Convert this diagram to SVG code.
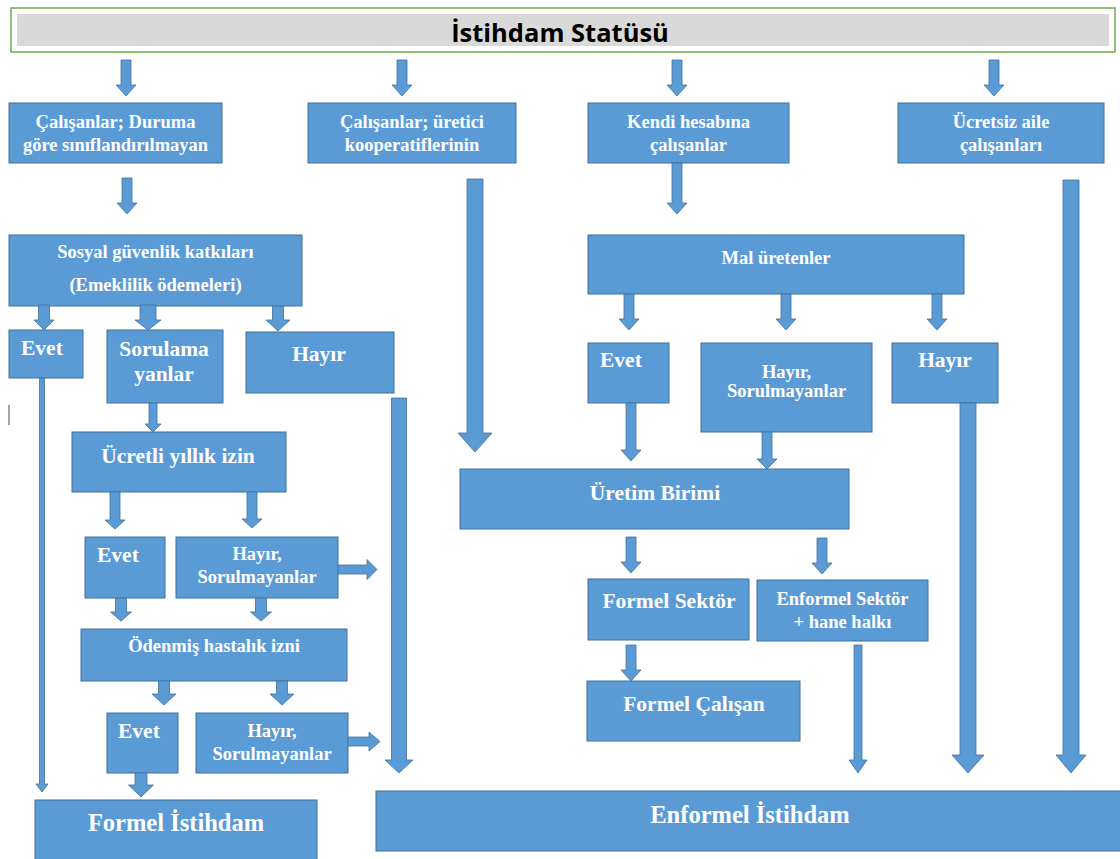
<svg xmlns="http://www.w3.org/2000/svg" width="1120" height="859" viewBox="0 0 1120 859">
<style>
.b{fill:#5B9BD5;stroke:#41719C;stroke-width:1}
.a{fill:#5B9BD5;stroke:#41719C;stroke-width:0.8}
text{font-family:"Liberation Serif","Times New Roman",serif;font-weight:bold;fill:#FFFFFF}
.s{font-size:18.5px}
.m{font-size:21.5px}
.l{font-size:24.5px}
.c{text-anchor:middle}
</style>
<rect width="1120" height="859" fill="#FFFFFF"/>
<g id="title">
<rect x="11" y="8" width="1104" height="44" fill="#FFFFFF" stroke="#70AD47" stroke-width="1.5"/>
<rect x="17" y="14" width="1092" height="32" fill="#D9D9D9"/>
<text x="560" y="41.5" text-anchor="middle" style="font-family:'Open Sans','Liberation Sans',sans-serif;font-size:25.5px;font-weight:bold;fill:#000000">İstihdam Statüsü</text>
</g>
<g id="n_duruma"><rect class="b" x="9" y="103" width="213" height="60"/><text class="s c" x="115.5" y="128">Çalışanlar; Duruma</text><text class="s c" x="115.5" y="151">göre sınıflandırılmayan</text></g>
<g id="n_kooperatif"><rect class="b" x="308" y="103" width="208" height="60"/><text class="s c" x="412" y="128">Çalışanlar; üretici</text><text class="s c" x="412" y="151">kooperatiflerinin</text></g>
<g id="n_kendi"><rect class="b" x="588" y="103" width="201" height="60"/><text class="s c" x="688.5" y="128">Kendi hesabına</text><text class="s c" x="688.5" y="151">çalışanlar</text></g>
<g id="n_ucretsiz"><rect class="b" x="898" y="103" width="206" height="60"/><text class="s c" x="1001" y="128">Ücretsiz aile</text><text class="s c" x="1001" y="151">çalışanları</text></g>
<g id="n_sosyal"><rect class="b" x="9" y="235" width="293" height="71"/><text class="s c" x="155.5" y="258">Sosyal güvenlik katkıları</text><text class="s c" x="155.5" y="291">(Emeklilik ödemeleri)</text></g>
<g id="n_evet1"><rect class="b" x="9" y="330" width="74" height="48"/><text class="m" x="21" y="355">Evet</text></g>
<g id="n_sorulama"><rect class="b" x="107" y="330" width="116" height="73"/><text class="m c" x="164" y="356">Sorulama</text><text class="m c" x="164" y="381">yanlar</text></g>
<g id="n_hayir1"><rect class="b" x="246" y="332" width="148" height="61"/><text class="m c" x="319" y="361">Hayır</text></g>
<g id="n_ucretli"><rect class="b" x="72" y="432" width="214" height="60"/><text class="m c" x="178" y="463">Ücretli yıllık izin</text></g>
<g id="n_evet2"><rect class="b" x="85" y="537" width="80" height="61"/><text class="m" x="97" y="562">Evet</text></g>
<g id="n_hayir2"><rect class="b" x="176" y="537" width="162" height="61"/><text class="s c" x="257" y="560">Hayır,</text><text class="s c" x="257" y="583">Sorulmayanlar</text></g>
<g id="n_odenmis"><rect class="b" x="81" y="629" width="266" height="52"/><text class="s c" x="214" y="652">Ödenmiş hastalık izni</text></g>
<g id="n_evet3"><rect class="b" x="107" y="713" width="71" height="60"/><text class="m" x="118" y="738">Evet</text></g>
<g id="n_hayir3"><rect class="b" x="196" y="713" width="152" height="60"/><text class="s c" x="272" y="737">Hayır,</text><text class="s c" x="272" y="760">Sorulmayanlar</text></g>
<g id="n_formel_istihdam"><rect class="b" x="35" y="800" width="282" height="62"/><text class="l c" x="176" y="831">Formel İstihdam</text></g>
<g id="n_mal"><rect class="b" x="588" y="235" width="376" height="59"/><text class="s c" x="776" y="264">Mal üretenler</text></g>
<g id="n_evet4"><rect class="b" x="588" y="343" width="81" height="60"/><text class="m" x="600" y="367">Evet</text></g>
<g id="n_hayir4"><rect class="b" x="701" y="343" width="171" height="89"/><text class="s c" x="786.5" y="378">Hayır,</text><text class="s c" x="786.5" y="397">Sorulmayanlar</text></g>
<g id="n_hayir5"><rect class="b" x="892" y="343" width="106" height="60"/><text class="m c" x="945" y="367">Hayır</text></g>
<g id="n_uretim"><rect class="b" x="460" y="469" width="389" height="60"/><text class="m c" x="655" y="500">Üretim Birimi</text></g>
<g id="n_formel_sektor"><rect class="b" x="588" y="579" width="161" height="61"/><text class="m c" x="669" y="608">Formel Sektör</text></g>
<g id="n_enformel_sektor"><rect class="b" x="757" y="580" width="171" height="61"/><text class="s c" x="842.5" y="605">Enformel Sektör</text><text class="s c" x="842.5" y="628">+ hane halkı</text></g>
<g id="n_formel_calisan"><rect class="b" x="587" y="681" width="213" height="60"/><text class="m c" x="694" y="711">Formel Çalışan</text></g>
<g id="n_enformel_istihdam"><rect class="b" x="376" y="791" width="750" height="60"/><text class="l c" x="750" y="823">Enformel İstihdam</text></g>
<line x1="9" y1="405" x2="9" y2="425" stroke="#A6A6A6" stroke-width="2"/>
<g id="connectors">
<path class="a" d="M121 60H131V85H136L126 96L116 85H121Z"/>
<path class="a" d="M397 60H407V85H412L402 96L392 85H397Z"/>
<path class="a" d="M672 60H682V85H687L677 96L667 85H672Z"/>
<path class="a" d="M989 60H999V85H1004L994 96L984 85H989Z"/>
<path class="a" d="M122 178H132V203H137L127 214L117 203H122Z"/>
<path class="a" d="M467 179H483V433H492L475 452L458 433H467Z"/>
<path class="a" d="M672 163H682V203H687L677 214L667 203H672Z"/>
<path class="a" d="M1063 180H1079V755H1086L1071 773L1056 755H1063Z"/>
<path class="a" d="M38.5 305H49.5V320H54L44 330L34 320H38.5Z"/>
<path class="a" d="M140 305H156V320H161L148 330L135 320H140Z"/>
<path class="a" d="M272.5 306H283.5V320H290L278 331L266 320H272.5Z"/>
<path class="a" d="M39.5 378H44.5V784H48L42 792L36 784H39.5Z"/>
<path class="a" d="M149 403H157V424H161L153 432L145 424H149Z"/>
<path class="a" d="M391.5 398H406.5V760H413L399 773L385 760H391.5Z"/>
<path class="a" d="M110 492H120V520H125L115 529L105 520H110Z"/>
<path class="a" d="M247 492H257V519H262L252 528L242 519H247Z"/>
<path class="a" d="M338 565H367V559.5L377 569.5L367 579.5V574H338Z"/>
<path class="a" d="M115.5 598H126.5V612H131.5L121 621L110.5 612H115.5Z"/>
<path class="a" d="M255.5 598H266.5V612H271.5L261 621L250.5 612H255.5Z"/>
<path class="a" d="M158.5 681H169.5V694H176L164 705L152 694H158.5Z"/>
<path class="a" d="M276.5 681H287.5V694H294L282 705L270 694H276.5Z"/>
<path class="a" d="M348 737H369V732L380 741.5L369 751V746H348Z"/>
<path class="a" d="M135 773H147V785H153.5L141 797L128.5 785H135Z"/>
<path class="a" d="M624 294H634V319H639L629 330L619 319H624Z"/>
<path class="a" d="M781 294H791V319H796L786 330L776 319H781Z"/>
<path class="a" d="M932 294H942V319H947L937 330L927 319H932Z"/>
<path class="a" d="M626 403H636V450H641L631 461L621 450H626Z"/>
<path class="a" d="M762 432H772V459H777L767 469L757 459H762Z"/>
<path class="a" d="M960 403H976V755H984L968 773L952 755H960Z"/>
<path class="a" d="M626 537H636V562H641L631 573L621 562H626Z"/>
<path class="a" d="M817 538H827V563H832L822 574L812 563H817Z"/>
<path class="a" d="M626 645H636V670H641L631 681L621 670H626Z"/>
<path class="a" d="M854 645H862V760H867L858 773L849 760H854Z"/>
</g>
</svg>
